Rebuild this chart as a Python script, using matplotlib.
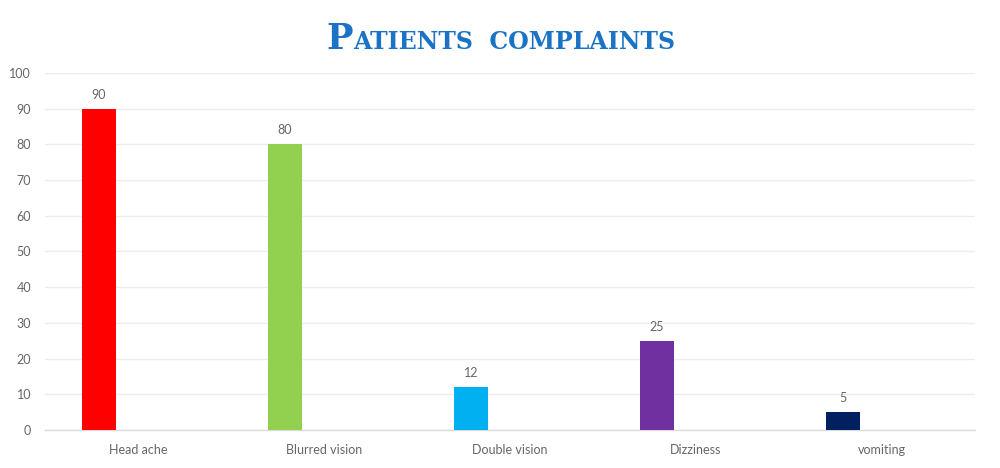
import matplotlib
matplotlib.use("Agg")
import matplotlib.pyplot as plt
import numpy as np

categories = ["Head ache", "Blurred vision", "Double vision", "Dizziness", "vomiting"]
values = [90, 80, 12, 25, 5]
colors = ["#FF0000", "#92D050", "#00B0F0", "#7030A0", "#002060"]
yticks = [0, 10, 20, 30, 40, 50, 60, 70, 80, 90, 100]

fig = plt.figure(figsize=(10, 4.68), dpi=100)
ax = fig.add_axes([0.045, 0.0812, 0.93, 0.763])

label_font = "Lato"
text_color = "#666666"

x = np.arange(len(categories))
bar_w = 0.18
offset = -0.21
bars = ax.bar(x + offset, values, width=bar_w, color=colors, zorder=3)
for xi, v in zip(x, values):
    ax.text(xi + offset, v + 2.2, str(v), ha="center", va="bottom",
            fontsize=9, color=text_color, family=label_font)

ax.set_xlim(-0.5, len(categories) - 0.5)
ax.set_ylim(0, 100)
ax.set_yticks(yticks)
ax.set_yticklabels([str(t) for t in yticks], fontsize=9, color=text_color, family=label_font)
ax.set_xticks(x)
ax.set_xticklabels(categories, fontsize=9, color=text_color, family=label_font)
ax.tick_params(axis="both", length=0)
ax.tick_params(axis="y", pad=10)
ax.tick_params(axis="x", pad=10)
ax.grid(axis="y", color="#EDEDED", linewidth=1.0, zorder=0)
for s in ["top", "right", "left"]:
    ax.spines[s].set_visible(False)
ax.spines["bottom"].set_color("#DCDCDC")
ax.spines["bottom"].set_linewidth(1.0)

# Small-caps title
title_color = "#1A73C4"
pieces = [("P", 25.5), ("ATIENTS  COMPLAINTS", 17.0)]
renderer = fig.canvas.get_renderer()
texts = []
for s, fs in pieces:
    t = fig.text(0, 0, s, fontsize=fs, fontweight="bold", family="DejaVu Serif",
                 color=title_color, ha="left", va="baseline")
    texts.append(t)
widths = [t.get_window_extent(renderer).width for t in texts]
total = sum(widths)
x0 = 501 - total / 2
baseline_px = 468 - 49
cur = x0
for t, w in zip(texts, widths):
    t.set_position((cur / 1000, baseline_px / 468))
    cur += w

fig.savefig("out.png", dpi=100)
